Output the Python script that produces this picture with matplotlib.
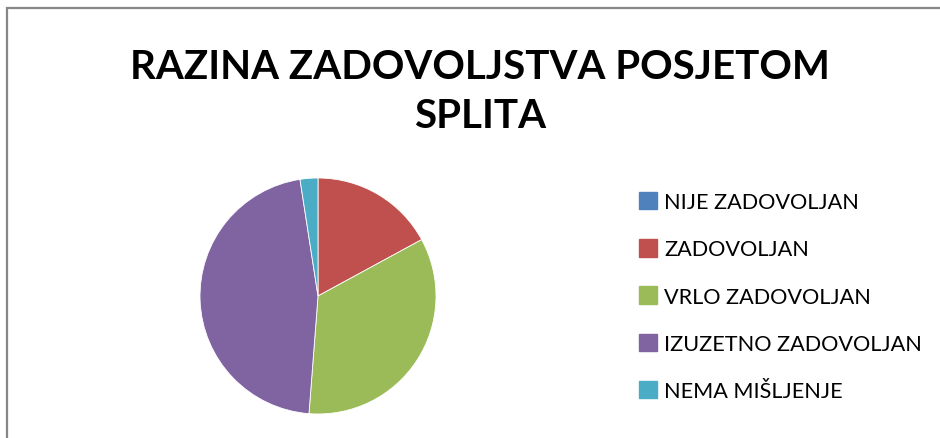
import matplotlib.pyplot as plt
import matplotlib.patches as patches

categories = ['NIJE ZADOVOLJAN', 'ZADOVOLJAN', 'VRLO ZADOVOLJAN',
              'IZUZETNO ZADOVOLJAN', 'NEMA MIŠLJENJE']
counts = [0, 7, 14, 19, 1]
colors = ['#4F81BD', '#C0504D', '#9BBB59', '#8064A2', '#4BACC6']
title = 'RAZINA ZADOVOLJSTVA POSJETOM\nSPLITA'

W, H = 940, 439
fig = plt.figure(figsize=(W / 100, H / 100), dpi=100)
plt.rcParams['font.family'] = ['Lato', 'DejaVu Sans']

# chart border (partly cropped at right/bottom)
fig.add_artist(patches.Rectangle((7.5 / W, -0.1), 1.2, (H - 8.5) / H + 0.1,
                                 transform=fig.transFigure, fill=False,
                                 ec='#878787', lw=1.6))

fig.text(480 / W, 1 - 92 / H, title, ha='center', va='center',
         fontsize=29, fontweight='bold', linespacing=1.4)

# pie: centre (318, 297) px, radius 118 px
r = 118
ax = fig.add_axes([(318 - r) / W, (H - 297 - r) / H, 2 * r / W, 2 * r / H])
wedges, _ = ax.pie(counts, colors=colors, startangle=90, counterclock=False,
                   radius=1, wedgeprops=dict(edgecolor='white', linewidth=0.6))
ax.set_xlim(-1, 1)
ax.set_ylim(-1, 1)
ax.set_aspect('equal')
ax.axis('off')

handles = [patches.Patch(color=c) for c in colors]
fig.legend(handles, categories, loc='upper left',
           bbox_to_anchor=(639 / W, 1 - 193 / H), frameon=False,
           fontsize=15.6, handlelength=0.85, handleheight=0.85,
           handletextpad=0.3, labelspacing=1.25, borderaxespad=0,
           borderpad=0)

plt.savefig('out.png', dpi=100)
